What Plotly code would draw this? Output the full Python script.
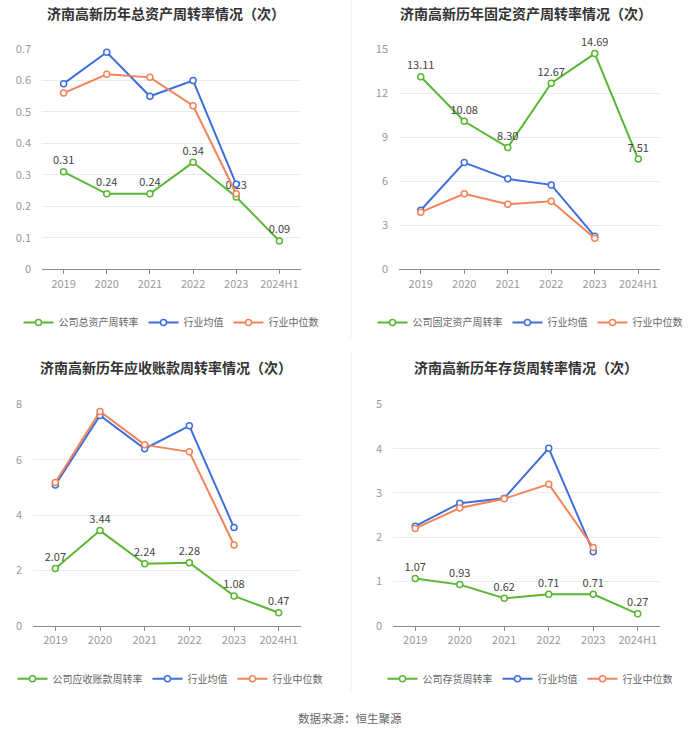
import plotly.graph_objects as go

years = ["2019", "2020", "2021", "2022", "2023", "2024H1"]

# 总资产周转率
total_company = [0.31, 0.24, 0.24, 0.34, 0.23, 0.09]
total_avg = [0.59, 0.69, 0.55, 0.60, 0.27, None]
total_median = [0.56, 0.62, 0.61, 0.52, 0.24, None]

# 固定资产周转率
fixed_company = [13.11, 10.08, 8.30, 12.67, 14.69, 7.51]
fixed_avg = [4.02, 7.27, 6.16, 5.75, 2.25, None]
fixed_median = [3.89, 5.14, 4.43, 4.64, 2.11, None]

# 应收账款周转率
ar_company = [2.07, 3.44, 2.24, 2.28, 1.08, 0.47]
ar_avg = [5.09, 7.60, 6.40, 7.23, 3.55, None]
ar_median = [5.18, 7.75, 6.54, 6.29, 2.92, None]

# 存货周转率
inv_company = [1.07, 0.93, 0.62, 0.71, 0.71, 0.27]
inv_avg = [2.25, 2.77, 2.88, 4.01, 1.67, None]
inv_median = [2.20, 2.66, 2.87, 3.20, 1.77, None]

titles = ["济南高新历年总资产周转率情况（次）", "济南高新历年固定资产周转率情况（次）",
          "济南高新历年应收账款周转率情况（次）", "济南高新历年存货周转率情况（次）"]
company_names = ["公司总资产周转率", "公司固定资产周转率", "公司应收账款周转率", "公司存货周转率"]
avg_name = "行业均值"
median_name = "行业中位数"

W, H = 700, 734
FONT = "Noto Sans CJK SC"
GREEN = "#5ab633"
BLUE = "#3f6fdc"
ORANGE = "#f3845a"

def fx(p):
    return p / W

def fy(p):
    # compensate for the vertical squeeze observed in the photographed page
    q = (p - 9.0) / 0.977
    return 1 - q / H

panels = [
    dict(company=total_company, avg=total_avg, med=total_median, x0=42, x1=301, ytop=49, ybot=269,
         ymax=0.7, dtick=0.1, title_x=166, title_y=13, leg_x=171, leg_y=322),
    dict(company=fixed_company, avg=fixed_avg, med=fixed_median, x0=399, x1=660, ytop=49, ybot=269,
         ymax=15, dtick=3, title_x=526, title_y=13, leg_x=530, leg_y=322),
    dict(company=ar_company, avg=ar_avg, med=ar_median, x0=33, x1=301, ytop=404, ybot=625,
         ymax=8, dtick=2, title_x=166, title_y=367, leg_x=170, leg_y=678),
    dict(company=inv_company, avg=inv_avg, med=inv_median, x0=393, x1=660, ytop=404, ybot=625,
         ymax=5, dtick=1, title_x=526, title_y=367, leg_x=530, leg_y=678),
]

fig = go.Figure()
layout = dict(width=W, height=H, margin=dict(l=0, r=0, t=0, b=0),
              paper_bgcolor="white", plot_bgcolor="white",
              font=dict(family=FONT, color="#666"), showlegend=True)
annotations = []

for i, p in enumerate(panels):
    n = "" if i == 0 else str(i + 1)
    xa, ya = "x" + n, "y" + n
    leg = "legend" + n
    for vals, name, color, lab in [(p["company"], company_names[i], GREEN, True),
                                   (p["avg"], avg_name, BLUE, False),
                                   (p["med"], median_name, ORANGE, False)]:
        fig.add_trace(go.Scatter(
            x=years, y=vals, name=name, xaxis=xa, yaxis=ya, legend=leg,
            mode="lines+markers+text" if lab else "lines+markers",
            text=[f"{v:.2f}" for v in vals] if lab else None,
            textposition="top center",
            textfont=dict(size=11, color="#444", family=FONT),
            line=dict(color=color, width=2),
            marker=dict(symbol="circle", size=6, color="white", line=dict(color=color, width=1.5)),
            cliponaxis=False, connectgaps=False,
        ))
    layout["xaxis" + n] = dict(domain=[fx(p["x0"]), fx(p["x1"])], anchor=ya, type="category",
                               range=[-0.5, 5.5], showgrid=False, showline=True, linecolor="#8a8a8a",
                               linewidth=1, ticks="outside", ticklen=4, tickcolor="#8a8a8a",
                               tickfont=dict(size=11, color="#999", family=FONT), zeroline=False,
                               fixedrange=True)
    layout["yaxis" + n] = dict(domain=[fy(p["ybot"]), fy(p["ytop"])], anchor=xa,
                               range=[0, p["ymax"]], dtick=p["dtick"], tick0=0,
                               showgrid=True, gridcolor="#e7ecf3", gridwidth=1,
                               showline=False, zeroline=False, ticks="",
                               tickfont=dict(size=11, color="#999", family=FONT),
                               ticklabelstandoff=10, fixedrange=True)
    layout[leg] = dict(orientation="h", x=fx(p["leg_x"]), xanchor="center",
                       y=fy(p["leg_y"]), yanchor="middle",
                       font=dict(size=10, color="#666", family=FONT),
                       bgcolor="rgba(0,0,0,0)", itemwidth=30, tracegroupgap=0)
    annotations.append(dict(text=f"<b>{titles[i]}</b>", x=fx(p["title_x"]), y=fy(p["title_y"]),
                            xref="paper", yref="paper", xanchor="center", yanchor="middle",
                            showarrow=False, font=dict(size=14, color="#333", family=FONT)))

annotations.append(dict(text="数据来源：恒生聚源", x=0.5, y=fy(717), xref="paper", yref="paper",
                        xanchor="center", yanchor="middle", showarrow=False,
                        font=dict(size=11.5, color="#666", family=FONT)))
layout["annotations"] = annotations
layout["shapes"] = [
    dict(type="line", xref="paper", yref="paper", x0=fx(351), x1=fx(351), y0=fy(0), y1=fy(338),
         line=dict(color="#eeeeee", width=1)),
    dict(type="line", xref="paper", yref="paper", x0=fx(351), x1=fx(351), y0=fy(352), y1=fy(690),
         line=dict(color="#eeeeee", width=1)),
]
fig.update_layout(**layout)
fig.write_html(
    "out.html",
    config={"displayModeBar": False},
    post_script=("var d=document.getElementById('{plot_id}');"
                 "d.style.position='fixed';d.style.top='0px';d.style.left='0px';"
                 "document.body.style.margin='0px';"
                 "document.documentElement.style.overflow='hidden';"),
)
